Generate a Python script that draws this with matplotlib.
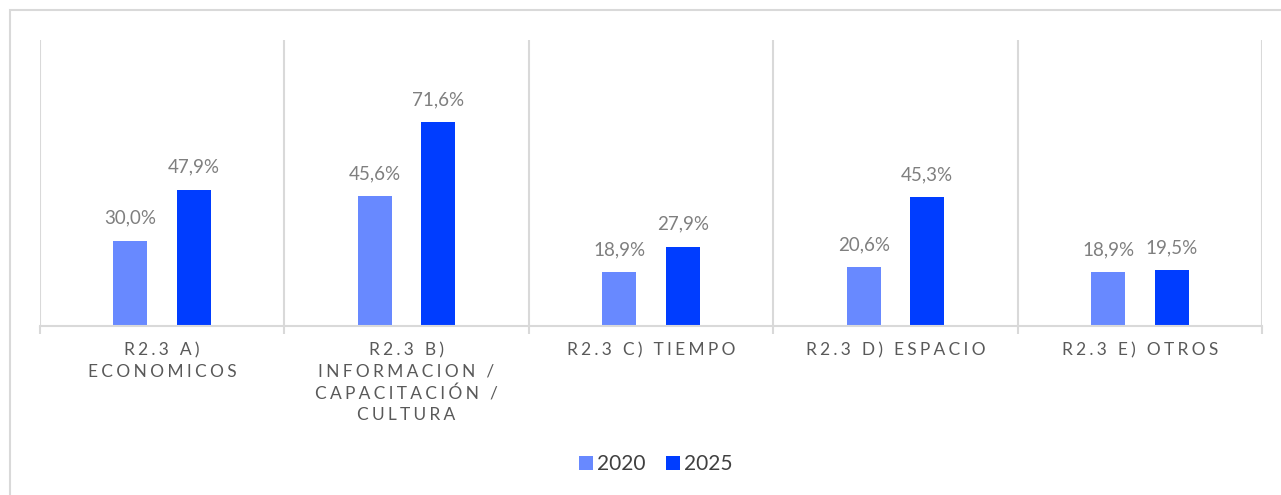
import matplotlib.pyplot as plt
import matplotlib.patches as mpatches
import numpy as np

categories = ['R2.3 A)\nECONOMICOS',
              'R2.3 B)\nINFORMACION /\nCAPACITACIÓN /\nCULTURA',
              'R2.3 C) TIEMPO',
              'R2.3 D) ESPACIO',
              'R2.3 E) OTROS']
vals_2020 = [30.0, 45.6, 18.9, 20.6, 18.9]
vals_2025 = [47.9, 71.6, 27.9, 45.3, 19.5]
series_names = ['2020', '2025']

c2020 = '#6889FF'
c2025 = '#003DFF'
grid_c = '#D9D9D9'
label_c = '#595959'
value_c = '#7F7F7F'

plt.rcParams['font.family'] = ['Lato', 'DejaVu Sans']


def spaced(s):
    # fake letter spacing with thin + hair spaces
    return '\n'.join('\u2009\u200a'.join(line) for line in s.split('\n'))


W, H = 1281, 495
fig = plt.figure(figsize=(W / 100, H / 100), dpi=100)
ax = fig.add_axes([40 / W, 1 - 326 / H, (1262 - 40) / W, (326 - 40) / H])

x = np.arange(len(categories))
bw = 0.139
off = 0.13
b1 = ax.bar(x - off, vals_2020, bw, color=c2020, label=series_names[0])
b2 = ax.bar(x + off, vals_2025, bw, color=c2025, label=series_names[1])

for bars, vals in ((b1, vals_2020), (b2, vals_2025)):
    for r, v in zip(bars, vals):
        ax.annotate(('%.1f%%' % v).replace('.', ','),
                    (r.get_x() + r.get_width() / 2, r.get_height()),
                    xytext=(0, 10), textcoords='offset points',
                    ha='center', va='bottom', fontsize=13.5, color=value_c)

ax.set_xlim(-0.5, len(categories) - 0.5)
ax.set_ylim(0, 100.4)
ax.set_yticks([])
ax.set_xticks(x)
ax.set_xticklabels([spaced(c) for c in categories], fontsize=12.5,
                   color=label_c, linespacing=1.38)
ax.tick_params(axis='x', which='major', length=0, pad=12)
ax.set_xticks(np.arange(len(categories) + 1) - 0.5, minor=True)
ax.tick_params(axis='x', which='minor', length=6, color=grid_c, width=1.5)
ax.grid(axis='x', which='minor', color=grid_c, linewidth=1.5)
ax.set_axisbelow(True)
for s in ['top', 'left', 'right']:
    ax.spines[s].set_visible(False)
ax.spines['bottom'].set_color(grid_c)
ax.spines['bottom'].set_linewidth(1.5)

ax.legend(loc='center', bbox_to_anchor=(656 / W, 1 - 464 / H),
          bbox_transform=fig.transFigure, ncol=2, frameon=False,
          fontsize=15, handlelength=0.65, handleheight=0.65,
          handletextpad=0.2, columnspacing=1.0, labelcolor='#404040')

# outer border (only top and left visible in the crop)
fig.patches.append(mpatches.Rectangle((10 / W, -0.1), 1.2, 1 - 10 / H + 0.1,
                                      transform=fig.transFigure, fill=False,
                                      edgecolor=grid_c, linewidth=1.5))

fig.savefig('out.png', dpi=100)
